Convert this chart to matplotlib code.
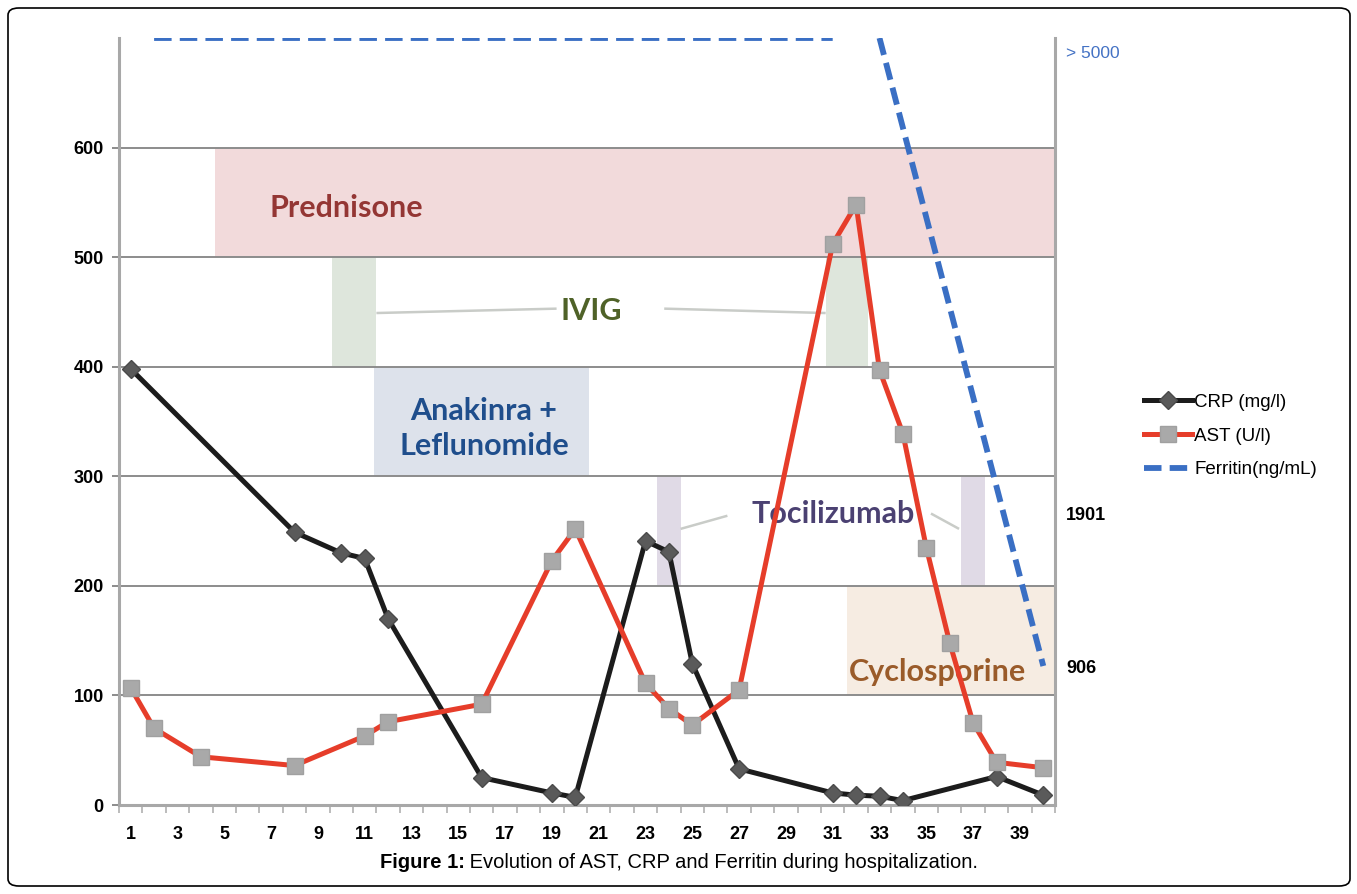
import numpy as np
import matplotlib
matplotlib.use("Agg")
import matplotlib.pyplot as plt
from matplotlib.patches import Rectangle, FancyBboxPatch

# ---------------- data ----------------
days_crp = [1, 8, 10, 11, 12, 16, 19, 20, 23, 24, 25, 27, 31, 32, 33, 34, 38, 40]
crp = [398, 249, 230, 225, 170, 25, 11, 7, 241, 231, 129, 33, 11, 9, 8, 4, 26, 9]

days_ast = [1, 2, 4, 8, 11, 12, 16, 19, 20, 23, 24, 25, 27, 31, 32, 33, 34, 35,
            36, 37, 38, 40]
ast = [107, 70, 44, 36, 63, 76, 92, 223, 252, 111, 88, 73, 105, 512, 548, 397,
       339, 235, 148, 75, 39, 34]

ferritin_days = [2, 31, 32, 33, 40]
ferritin = [5000, 5000, np.nan, 5000, 906]

x_tick_days = list(range(1, 40, 2))
y_ticks = [0, 100, 200, 300, 400, 500, 600]
ferritin_ticks = [906, 1901, 4910]
ferritin_tick_labels = ["906", "1901", "> 5000"]

# treatments: names, (start day, end day) spans, value bands
treat_names = ["Prednisone", "IVIG", "Anakinra +\nLeflunomide", "Tocilizumab", "Cyclosporine"]
treat_spans = [[(4.6, 40.5)], [(9.6, 11.5), (30.7, 32.5)], [(11.4, 20.6)],
               [(23.5, 24.5), (36.5, 37.5)], [(31.6, 40.5)]]
treat_bands = [(500, 600), (400, 500), (300, 400), (200, 300), (100, 200)]

# ---------------- style ----------------
plt.rcParams['font.family'] = ['Liberation Sans', 'DejaVu Sans']
box_colors = ["#F2DADB", "#DEE6DC", "#DDE2EB", "#E0DAE6", "#F6ECE2"]
text_colors = ["#943634", "#4F6228", "#1F4E8C", "#4B4172", "#9A5B2A"]
text_pos = [(10.2, 545), (20.7, 451), (16.1, 344), (31.0, 266), (35.5, 121)]
grid_gray = "#8C8C8C"
spine_gray = "#A8A8A8"

fig = plt.figure(figsize=(13.57, 8.94), dpi=100)
ax = fig.add_axes([119/1357, 1-805/894, (1055-119)/1357, (805-38)/894])
ax.set_xlim(0.5, 40.5)
ax.set_ylim(0, 700)

# treatment boxes
for name, spans, (lo, hi), bc in zip(treat_names, treat_spans, treat_bands, box_colors):
    for (s, e) in spans:
        ax.add_patch(Rectangle((s, lo), e - s, hi - lo, facecolor=bc,
                               edgecolor='none', zorder=0.1))
for name, (tx, ty), tc in zip(treat_names, text_pos, text_colors):
    ax.text(tx, ty, name, ha='center', va='center', color=tc, fontsize=22,
            fontweight='bold', family=['Lato', 'DejaVu Sans'], zorder=1,
            linespacing=1.3)

# connector lines
conn = dict(color="#C9CCC8", lw=1.8, zorder=0.8, solid_capstyle='butt')
ax.plot([11.5, 19.2], [449, 453], **conn)
ax.plot([23.8, 30.7], [453, 449], **conn)
ax.plot([24.5, 26.5], [252, 264], **conn)
ax.plot([35.2, 36.4], [266, 252], **conn)

# grid
ax.set_axisbelow(True)
ax.set_yticks(y_ticks)
ax.yaxis.grid(True, color=grid_gray, lw=1.4)
ax.tick_params(axis='y', length=5, width=1.4, color=grid_gray, pad=6,
               labelsize=13)
for lab in ax.get_yticklabels():
    lab.set_fontweight('bold')

ax.set_xticks(x_tick_days)
ax.set_xticklabels([str(d) for d in x_tick_days], fontweight='bold', fontsize=13)
ax.set_xticks(np.arange(0.5, 41, 1.0), minor=True)
ax.tick_params(axis='x', which='major', length=0, pad=15)
ax.tick_params(axis='x', which='minor', length=6, width=1.2, color="#B0B0B0",
               direction='out')

for s in ['top', 'right']:
    ax.spines[s].set_visible(False)
for s in ['left', 'bottom']:
    ax.spines[s].set_color(spine_gray)
    ax.spines[s].set_linewidth(2.2)

# series
l_crp, = ax.plot(days_crp, crp, color="#1C1C1C", lw=3.6, marker='D', markersize=9,
                 markerfacecolor="#5A5A5A", markeredgecolor="#4A4A4A", zorder=3,
                 label="CRP (mg/l)")
l_ast, = ax.plot(days_ast, ast, color="#E63D2A", lw=3.6, marker='s', markersize=12,
                 markerfacecolor="#A9A9A9", markeredgecolor="#A0A0A0", zorder=4,
                 label="AST (U/l)")

ax2 = ax.twinx()
ax2.set_ylim(0, 5000)
l_fer, = ax2.plot(ferritin_days, ferritin, color="#3A6FC4", lw=4.2,
                  dashes=(3.0, 1.4), label="Ferritin(ng/mL)", zorder=5)
ax2.set_yticks(ferritin_ticks)
ax2.set_yticklabels(ferritin_tick_labels)
ax2.tick_params(axis='y', length=0, pad=8, labelsize=13)
labs = ax2.get_yticklabels()
for lab, txt in zip(labs, ferritin_tick_labels):
    if txt.startswith(">"):
        lab.set_color("#4472C4")
        lab.set_fontweight('normal')
        lab.set_fontsize(12.5)
    else:
        lab.set_fontweight('bold')
for s in ['top', 'left', 'bottom']:
    ax2.spines[s].set_visible(False)
ax2.spines['right'].set_color(spine_gray)
ax2.spines['right'].set_linewidth(2.2)

# legend
fig.legend(handles=[l_crp, l_ast, l_fer], loc='center left',
           bbox_to_anchor=(1136/1357, 1-436/894), frameon=False, fontsize=13.5,
           handlelength=2.6, handletextpad=0.1, labelspacing=0.88,
           borderaxespad=0)

# caption: bold prefix + regular text, centered as a whole
renderer = fig.canvas.get_renderer()
cy = 1 - 863/894
t1 = fig.text(0, cy, "Figure 1:", ha='left', va='center', fontsize=14.5,
              fontweight='bold')
t2 = fig.text(0, cy, " Evolution of AST, CRP and Ferritin during hospitalization.",
              ha='left', va='center', fontsize=14.5)
w1 = t1.get_window_extent(renderer).width / fig.bbox.width
w2 = t2.get_window_extent(renderer).width / fig.bbox.width
x0 = 679/1357 - (w1 + w2) / 2
t1.set_x(x0)
t2.set_x(x0 + w1)

# frame
fig.patches.append(FancyBboxPatch((8/1357, 1-886/894), (1350-8)/1357, (886-8)/894,
                                  boxstyle="round,pad=0,rounding_size=0.008",
                                  transform=fig.transFigure, facecolor='none',
                                  edgecolor='black', lw=1.2))

fig.savefig("out.png", dpi=100)
